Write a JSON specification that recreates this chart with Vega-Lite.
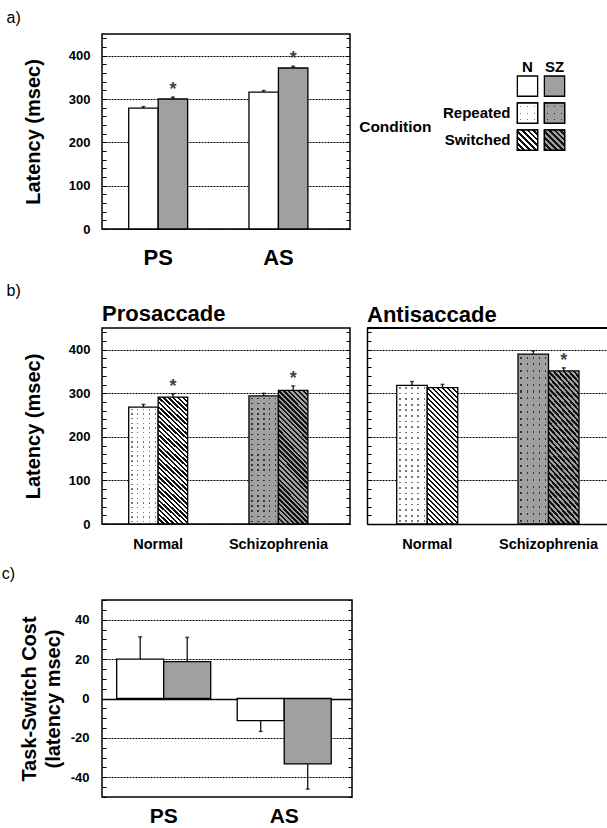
{
"$schema": "https://vega.github.io/schema/vega-lite/v6.json",
"background": "white",
"padding": {"left": 0, "top": 9, "right": 0, "bottom": 0},
"spacing": 13,
"resolve": {"scale": {"xOffset": "independent"}},
"datasets": {
"a": [
{"task":"PS","group":"N","latency":279,"hi":282.5,"sig":false},
{"task":"PS","group":"SZ","latency":300,"hi":304.5,"sig":true},
{"task":"AS","group":"N","latency":316,"hi":319.5,"sig":false},
{"task":"AS","group":"SZ","latency":371.5,"hi":375.5,"sig":true}
],
"b": [
{"task":"Prosaccade","group":"Normal","condition":"Repeated","latency":268.5,"hi":274.5,"sig":false},
{"task":"Prosaccade","group":"Normal","condition":"Switched","latency":291.5,"hi":299,"sig":true},
{"task":"Prosaccade","group":"Schizophrenia","condition":"Repeated","latency":294,"hi":300,"sig":false},
{"task":"Prosaccade","group":"Schizophrenia","condition":"Switched","latency":307,"hi":317,"sig":true},
{"task":"Antisaccade","group":"Normal","condition":"Repeated","latency":318.5,"hi":327,"sig":false},
{"task":"Antisaccade","group":"Normal","condition":"Switched","latency":313,"hi":320.5,"sig":false},
{"task":"Antisaccade","group":"Schizophrenia","condition":"Repeated","latency":390,"hi":397.5,"sig":false},
{"task":"Antisaccade","group":"Schizophrenia","condition":"Switched","latency":351.5,"hi":358.5,"sig":true}
],
"c": [
{"task":"PS","group":"N","cost":20,"err":31.3},
{"task":"PS","group":"SZ","cost":18.7,"err":31},
{"task":"AS","group":"N","cost":-11.2,"err":-16.7},
{"task":"AS","group":"SZ","cost":-33.2,"err":-46}
],
"leg": [
{"group":"N","row":"Plain"},{"group":"SZ","row":"Plain"},
{"group":"N","row":"Repeated"},{"group":"SZ","row":"Repeated"},
{"group":"N","row":"Switched"},{"group":"SZ","row":"Switched"}
]
},
"vconcat": [
{
"title": {"text":"a)","anchor":"start","fontSize":16,"fontWeight":"normal","offset":6,"dx":-16},
"spacing": 6,
"resolve": {"scale": {"xOffset": "independent"}},
"hconcat": [
{
"width": 248, "height": 195,
"data": {"name":"a"},
"encoding": {
"x": {"field":"task","type":"nominal","scale":{"type":"band","domain":["PS","AS"],"paddingInner":0.51,"paddingOuter":0.286,"align":0.388},"axis":{"title":null,"labelAngle":0,"labelFontSize":22,"labelPadding":18}},
"xOffset": {"field":"group","type":"nominal","scale":{"type":"band","domain":["N","SZ"],"paddingInner":0,"paddingOuter":0}}
},
"layer": [
{"mark":{"type":"bar","stroke":"#000","strokeWidth":1.3},
"encoding":{
"y":{"field":"latency","type":"quantitative","scale":{"domain":[0,450],"nice":false},"axis":{"orient":"left","title":"Latency (msec)","titleFontSize":20,"titlePadding":25,"values":[0,20,40,60,80,100,120,140,160,180,200,220,240,260,280,300,320,340,360,380,400,420,440],"labelExpr":"datum.value % 100 == 0 ? datum.label : ''","labelFontSize":13,"labelPadding":16,"grid":true,"gridColor":"#000","gridDash":[2,1],"gridWidth":1,"gridOpacity":{"condition":{"test":"datum.value % 100 == 0","value":1},"value":0},"ticks":true,"tickSize":-4,"tickColor":"#000","tickWidth":1}},
"fill":{"field":"group","type":"nominal","scale":{"domain":["N","SZ"],"range":["#ffffff","#a0a0a0"]},"legend":null}}},
{"mark":{"type":"rule","color":"#000","strokeWidth":1.2},
"encoding":{"y":{"field":"latency","type":"quantitative","scale":{"domain":[0,450],"nice":false},"axis":{"orient":"right","title":null,"values":[0,20,40,60,80,100,120,140,160,180,200,220,240,260,280,300,320,340,360,380,400,420,440],"labels":false,"grid":false,"domain":false,"ticks":true,"tickSize":-4,"tickColor":"#000","tickWidth":1}},"y2":{"field":"hi"}}},
{"mark":{"type":"tick","color":"#000","thickness":1.5,"size":4},
"encoding":{"y":{"field":"hi","type":"quantitative","scale":{"domain":[0,450],"nice":false},"axis":null}}},
{"transform":[{"filter":"datum.sig"}],
"mark":{"type":"text","text":"*","fontSize":18,"fontWeight":"bold","color":"#444","dy":-2,"baseline":"alphabetic"},
"encoding":{"y":{"field":"hi","type":"quantitative","scale":{"domain":[0,450],"nice":false},"axis":null}}}
],
"resolve": {"axis":{"y":"independent"}}
},
{
"width": 60, "height": 195,
"view": {"stroke": null},
"data": {"name":"leg"},
"encoding": {
"x": {"field":"group","type":"nominal","scale":{"type":"band","domain":["N","SZ"],"paddingInner":0.25,"paddingOuter":0.236},"axis":null},
"y": {"field":"row","type":"nominal","scale":{"type":"band","domain":["t0","Plain","Repeated","Switched","t4","t5"],"paddingInner":0.25,"paddingOuter":0.736,"align":0.377},"axis":{"orient":"left","title":"Condition","titleAngle":0,"titleAlign":"right","titleBaseline":"middle","titleX":-80,"titleY":92,"titleFontSize":15.5,"labelFontSize":15,"labelPadding":1,"labelExpr":"datum.value == 'Repeated' || datum.value == 'Switched' ? datum.value : ''","ticks":false,"domain":false,"grid":false}}
},
"layer": [
{"mark":{"type":"rect","stroke":"#000","strokeWidth":1.3},"encoding":{"fill":{"field":"group","type":"nominal","scale":{"domain":["N","SZ"],"range":["#ffffff","#a0a0a0"]},"legend":null}}},
{"transform":[{"filter":"datum.row=='Repeated' && datum.group=='N'"}],"mark":{"type":"rect","style":"lrowN"}},
{"transform":[{"filter":"datum.row=='Repeated' && datum.group=='N'"}],"mark":{"type":"rect","style":"lmaskN","stroke":"#000","strokeWidth":1.3}},
{"transform":[{"filter":"datum.row=='Repeated' && datum.group=='SZ'"}],"mark":{"type":"rect","style":"lrowS"}},
{"transform":[{"filter":"datum.row=='Repeated' && datum.group=='SZ'"}],"mark":{"type":"rect","style":"lmaskS","stroke":"#000","strokeWidth":1.3}},
{"transform":[{"filter":"datum.row=='Switched' && datum.group=='N'"}],"mark":{"type":"rect","style":"lswN","stroke":"#000","strokeWidth":1.3}},
{"transform":[{"filter":"datum.row=='Switched' && datum.group=='SZ'"}],"mark":{"type":"rect","style":"lswS","stroke":"#000","strokeWidth":1.3}},
{"transform":[{"filter":"datum.row=='Plain'"}],"mark":{"type":"text","fontSize":15,"fontWeight":"bold","dy":-19,"color":"#000"},"encoding":{"text":{"field":"group"}}}
]
}
]
},
{
"title": {"text":"b)","anchor":"start","fontSize":16,"fontWeight":"normal","offset":4,"dx":-16},
"spacing": 14,
"resolve": {"scale": {"xOffset": "independent"}},
"hconcat": [
{
"width": 248, "height": 196,
"title": {"text":"Prosaccade","anchor":"start","frame":"group","fontSize":22,"fontWeight":"bold","offset":0},
"data": {"name":"b"},
"transform": [{"filter":"datum.task=='Prosaccade'"}],
"encoding": {
"x": {"field":"group","type":"nominal","scale":{"type":"band","domain":["Normal","Schizophrenia"],"paddingInner":0.51,"paddingOuter":0.286,"align":0.388},"axis":{"title":null,"labelAngle":0,"labelFontSize":14.5,"labelPadding":13}},
"xOffset": {"field":"condition","type":"nominal","scale":{"type":"band","domain":["Repeated","Switched"],"paddingInner":0,"paddingOuter":0}},
"y": {"field":"latency","type":"quantitative","scale":{"domain":[0,450],"nice":false},"axis":null}
},
"layer": [
{"transform":[{"filter":"datum.condition=='Repeated' && datum.group=='Normal'"}],"mark":{"type":"bar","style":"rowN"},
"encoding":{"y":{"field":"latency","type":"quantitative","scale":{"domain":[0,450],"nice":false},"axis":{"orient":"left","title":"Latency (msec)","titleFontSize":20,"titlePadding":25,"values":[0,20,40,60,80,100,120,140,160,180,200,220,240,260,280,300,320,340,360,380,400,420,440],"labelExpr":"datum.value % 100 == 0 ? datum.label : ''","labelFontSize":13,"labelPadding":16,"grid":true,"gridColor":"#000","gridDash":[2,1],"gridWidth":1,"gridOpacity":{"condition":{"test":"datum.value % 100 == 0","value":1},"value":0},"ticks":true,"tickSize":-4,"tickColor":"#000","tickWidth":1}}}},
{"transform":[{"filter":"datum.condition=='Repeated' && datum.group=='Normal'"}],"mark":{"type":"bar","style":"maskN","stroke":"#000","strokeWidth":1.3}},
{"transform":[{"filter":"datum.condition=='Repeated' && datum.group=='Schizophrenia'"}],"mark":{"type":"bar","style":"rowS"}},
{"transform":[{"filter":"datum.condition=='Repeated' && datum.group=='Schizophrenia'"}],"mark":{"type":"bar","style":"maskS","stroke":"#000","strokeWidth":1.3}},
{"transform":[{"filter":"datum.condition=='Switched' && datum.group=='Normal'"}],"mark":{"type":"bar","style":"swN","stroke":"#000","strokeWidth":1.3}},
{"transform":[{"filter":"datum.condition=='Switched' && datum.group=='Schizophrenia'"}],"mark":{"type":"bar","style":"swS","stroke":"#000","strokeWidth":1.3}},
{"mark":{"type":"rule","color":"#000","strokeWidth":1.2},
"encoding":{"y":{"field":"latency","type":"quantitative","scale":{"domain":[0,450],"nice":false},"axis":{"orient":"right","title":null,"values":[0,20,40,60,80,100,120,140,160,180,200,220,240,260,280,300,320,340,360,380,400,420,440],"labels":false,"grid":false,"domain":false,"ticks":true,"tickSize":-4,"tickColor":"#000","tickWidth":1}},"y2":{"field":"hi"}}},
{"mark":{"type":"tick","color":"#000","thickness":1.5,"size":4},
"encoding":{"y":{"field":"hi","type":"quantitative","scale":{"domain":[0,450],"nice":false},"axis":null}}},
{"transform":[{"filter":"datum.sig"}],
"mark":{"type":"text","text":"*","fontSize":18,"fontWeight":"bold","color":"#444","dy":-2,"baseline":"alphabetic"},
"encoding":{"y":{"field":"hi","type":"quantitative","scale":{"domain":[0,450],"nice":false},"axis":null}}}
],
"resolve": {"axis":{"y":"independent"}}
},
{
"width": 240, "height": 196,
"view": {"stroke": null},
"title": {"text":"Antisaccade","anchor":"start","frame":"group","fontSize":22,"fontWeight":"bold","offset":0},
"data": {"name":"b"},
"transform": [{"filter":"datum.task=='Antisaccade'"}],
"layer": [
{
"encoding": {
"x": {"field":"group","type":"nominal","scale":{"type":"band","domain":["Normal","Schizophrenia"],"paddingInner":0.497,"paddingOuter":0.238,"align":0.515},"axis":{"title":null,"labelAngle":0,"labelFontSize":14.5,"labelPadding":13,"domain":true,"domainColor":"#000","domainWidth":1.5}},
"xOffset": {"field":"condition","type":"nominal","scale":{"type":"band","domain":["Repeated","Switched"],"paddingInner":0,"paddingOuter":0}},
"y": {"field":"latency","type":"quantitative","scale":{"domain":[0,450],"nice":false},"axis":null}
},
"layer": [
{"transform":[{"filter":"datum.condition=='Repeated' && datum.group=='Normal'"}],"mark":{"type":"bar","style":"rowN"},
"encoding":{"y":{"field":"latency","type":"quantitative","scale":{"domain":[0,450],"nice":false},"axis":{"orient":"left","title":null,"values":[0,20,40,60,80,100,120,140,160,180,200,220,240,260,280,300,320,340,360,380,400,420,440],"labels":false,"domain":true,"domainColor":"#000","domainWidth":1.5,"grid":true,"gridColor":"#000","gridDash":[2,1],"gridWidth":1,"gridOpacity":{"condition":{"test":"datum.value % 100 == 0","value":1},"value":0},"ticks":true,"tickSize":-4,"tickColor":"#000","tickWidth":1}}}},
{"transform":[{"filter":"datum.condition=='Repeated' && datum.group=='Normal'"}],"mark":{"type":"bar","style":"maskN","stroke":"#000","strokeWidth":1.3}},
{"transform":[{"filter":"datum.condition=='Repeated' && datum.group=='Schizophrenia'"}],"mark":{"type":"bar","style":"rowS"}},
{"transform":[{"filter":"datum.condition=='Repeated' && datum.group=='Schizophrenia'"}],"mark":{"type":"bar","style":"maskS","stroke":"#000","strokeWidth":1.3}},
{"transform":[{"filter":"datum.condition=='Switched' && datum.group=='Normal'"}],"mark":{"type":"bar","style":"swN","stroke":"#000","strokeWidth":1.3}},
{"transform":[{"filter":"datum.condition=='Switched' && datum.group=='Schizophrenia'"}],"mark":{"type":"bar","style":"swS","stroke":"#000","strokeWidth":1.3}},
{"mark":{"type":"rule","color":"#000","strokeWidth":1.2},
"encoding":{"y":{"field":"latency","type":"quantitative","scale":{"domain":[0,450],"nice":false},"axis":null},"y2":{"field":"hi"}}},
{"mark":{"type":"tick","color":"#000","thickness":1.5,"size":4},
"encoding":{"y":{"field":"hi","type":"quantitative","scale":{"domain":[0,450],"nice":false},"axis":null}}},
{"transform":[{"filter":"datum.sig"}],
"mark":{"type":"text","text":"*","fontSize":18,"fontWeight":"bold","color":"#444","dy":-2,"baseline":"alphabetic"},
"encoding":{"y":{"field":"hi","type":"quantitative","scale":{"domain":[0,450],"nice":false},"axis":null}}}
],
"resolve": {"axis":{"y":"independent"}}
},
{"mark":{"type":"rule","color":"#000","strokeWidth":1.5},
"encoding":{"y":{"datum":450,"type":"quantitative","scale":{"domain":[0,450],"nice":false},"axis":null}}}
],
"resolve": {"axis":{"y":"independent"}}
}
]
},
{
"width": 250, "height": 197,
"title": {"text":"c)","anchor":"start","fontSize":16,"fontWeight":"normal","offset":12,"dx":-17.5},
"data": {"name":"c"},
"encoding": {
"x": {"field":"task","type":"nominal","scale":{"type":"band","domain":["PS","AS"],"paddingInner":0.22,"paddingOuter":0.147,"align":0.414},"axis":{"title":null,"labelAngle":0,"labelFontSize":21,"labelPadding":8}},
"xOffset": {"field":"group","type":"nominal","scale":{"type":"band","domain":["N","SZ"],"paddingInner":0,"paddingOuter":0}}
},
"layer": [
{"mark":{"type":"bar","stroke":"#000","strokeWidth":1.3},
"encoding":{
"y":{"field":"cost","type":"quantitative","scale":{"domain":[-50,50],"nice":false},"axis":{"orient":"left","title":["Task-Switch Cost","(latency msec)"],"titleFontSize":20,"titleLineHeight":24,"titlePadding":7,"values":[-50,-45,-40,-35,-30,-25,-20,-15,-10,-5,0,5,10,15,20,25,30,35,40,45,50],"labelExpr":"datum.value % 20 == 0 ? '' + datum.value : ''","labelFontSize":13,"labelPadding":17,"grid":true,"gridColor":"#000","gridDash":{"condition":{"test":"datum.value == 0","value":[]},"value":[2,1]},"gridWidth":{"condition":{"test":"datum.value == 0","value":1.5},"value":1},"gridOpacity":{"condition":{"test":"datum.value % 20 == 0","value":1},"value":0},"ticks":true,"tickSize":-4,"tickColor":"#000","tickWidth":1}},
"fill":{"field":"group","type":"nominal","scale":{"domain":["N","SZ"],"range":["#ffffff","#a0a0a0"]},"legend":null}}},
{"mark":{"type":"rule","color":"#000","strokeWidth":1.2},
"encoding":{"y":{"field":"cost","type":"quantitative","scale":{"domain":[-50,50],"nice":false},"axis":{"orient":"right","title":null,"values":[-50,-45,-40,-35,-30,-25,-20,-15,-10,-5,0,5,10,15,20,25,30,35,40,45,50],"labels":false,"grid":false,"domain":false,"ticks":true,"tickSize":-4,"tickColor":"#000","tickWidth":1}},"y2":{"field":"err"}}},
{"mark":{"type":"tick","color":"#000","thickness":1.5,"size":4},
"encoding":{"y":{"field":"err","type":"quantitative","scale":{"domain":[-50,50],"nice":false},"axis":null}}}
],
"resolve": {"axis":{"y":"independent"}}
}
],
"config": {
"font": "Liberation Sans",
"view": {"stroke":"#000","strokeWidth":1.5},
"axis": {"labelFont":"Liberation Sans","labelFontWeight":"bold","labelColor":"#000","titleFont":"Liberation Sans","titleFontWeight":"bold","titleColor":"#000","domain":false,"ticks":false,"grid":false,"labelOverlap":false},
"title": {"font":"Liberation Sans","color":"#000","fontWeight":"bold"},
"text": {"font":"Liberation Sans"},
"style": {
"swN": {"color": {"gradient":"linear","x1":0,"y1":1,"x2":0.2588,"y2":-0.1647,"stops":[
{"offset":0,"color":"#111"},
{"offset":0.015,"color":"#111"},{"offset":0.015,"color":"#fff"},
{"offset":0.03,"color":"#fff"},{"offset":0.03,"color":"#111"},
{"offset":0.045,"color":"#111"},{"offset":0.045,"color":"#fff"},
{"offset":0.06,"color":"#fff"},{"offset":0.06,"color":"#111"},
{"offset":0.075,"color":"#111"},{"offset":0.075,"color":"#fff"},
{"offset":0.09,"color":"#fff"},{"offset":0.09,"color":"#111"},
{"offset":0.105,"color":"#111"},{"offset":0.105,"color":"#fff"},
{"offset":0.12,"color":"#fff"},{"offset":0.12,"color":"#111"},
{"offset":0.135,"color":"#111"},{"offset":0.135,"color":"#fff"},
{"offset":0.15,"color":"#fff"},{"offset":0.15,"color":"#111"},
{"offset":0.165,"color":"#111"},{"offset":0.165,"color":"#fff"},
{"offset":0.18,"color":"#fff"},{"offset":0.18,"color":"#111"},
{"offset":0.195,"color":"#111"},{"offset":0.195,"color":"#fff"},
{"offset":0.21,"color":"#fff"},{"offset":0.21,"color":"#111"},
{"offset":0.225,"color":"#111"},{"offset":0.225,"color":"#fff"},
{"offset":0.24,"color":"#fff"},{"offset":0.24,"color":"#111"},
{"offset":0.255,"color":"#111"},{"offset":0.255,"color":"#fff"},
{"offset":0.27,"color":"#fff"},{"offset":0.27,"color":"#111"},
{"offset":0.285,"color":"#111"},{"offset":0.285,"color":"#fff"},
{"offset":0.3,"color":"#fff"},{"offset":0.3,"color":"#111"},
{"offset":0.315,"color":"#111"},{"offset":0.315,"color":"#fff"},
{"offset":0.33,"color":"#fff"},{"offset":0.33,"color":"#111"},
{"offset":0.345,"color":"#111"},{"offset":0.345,"color":"#fff"},
{"offset":0.36,"color":"#fff"},{"offset":0.36,"color":"#111"},
{"offset":0.375,"color":"#111"},{"offset":0.375,"color":"#fff"},
{"offset":0.39,"color":"#fff"},{"offset":0.39,"color":"#111"},
{"offset":0.405,"color":"#111"},{"offset":0.405,"color":"#fff"},
{"offset":0.42,"color":"#fff"},{"offset":0.42,"color":"#111"},
{"offset":0.435,"color":"#111"},{"offset":0.435,"color":"#fff"},
{"offset":0.45,"color":"#fff"},{"offset":0.45,"color":"#111"},
{"offset":0.465,"color":"#111"},{"offset":0.465,"color":"#fff"},
{"offset":0.48,"color":"#fff"},{"offset":0.48,"color":"#111"},
{"offset":0.495,"color":"#111"},{"offset":0.495,"color":"#fff"},
{"offset":0.51,"color":"#fff"},{"offset":0.51,"color":"#111"},
{"offset":0.525,"color":"#111"},{"offset":0.525,"color":"#fff"},
{"offset":0.54,"color":"#fff"},{"offset":0.54,"color":"#111"},
{"offset":0.555,"color":"#111"},{"offset":0.555,"color":"#fff"},
{"offset":0.57,"color":"#fff"},{"offset":0.57,"color":"#111"},
{"offset":0.585,"color":"#111"},{"offset":0.585,"color":"#fff"},
{"offset":0.6,"color":"#fff"},{"offset":0.6,"color":"#111"},
{"offset":0.615,"color":"#111"},{"offset":0.615,"color":"#fff"},
{"offset":0.63,"color":"#fff"},{"offset":0.63,"color":"#111"},
{"offset":0.645,"color":"#111"},{"offset":0.645,"color":"#fff"},
{"offset":0.66,"color":"#fff"},{"offset":0.66,"color":"#111"},
{"offset":0.675,"color":"#111"},{"offset":0.675,"color":"#fff"},
{"offset":0.69,"color":"#fff"},{"offset":0.69,"color":"#111"},
{"offset":0.705,"color":"#111"},{"offset":0.705,"color":"#fff"},
{"offset":0.72,"color":"#fff"},{"offset":0.72,"color":"#111"},
{"offset":0.735,"color":"#111"},{"offset":0.735,"color":"#fff"},
{"offset":0.75,"color":"#fff"},{"offset":0.75,"color":"#111"},
{"offset":0.765,"color":"#111"},{"offset":0.765,"color":"#fff"},
{"offset":0.78,"color":"#fff"},{"offset":0.78,"color":"#111"},
{"offset":0.795,"color":"#111"},{"offset":0.795,"color":"#fff"},
{"offset":0.81,"color":"#fff"},{"offset":0.81,"color":"#111"},
{"offset":0.825,"color":"#111"},{"offset":0.825,"color":"#fff"},
{"offset":0.84,"color":"#fff"},{"offset":0.84,"color":"#111"},
{"offset":0.855,"color":"#111"},{"offset":0.855,"color":"#fff"},
{"offset":0.87,"color":"#fff"},{"offset":0.87,"color":"#111"},
{"offset":0.885,"color":"#111"},{"offset":0.885,"color":"#fff"},
{"offset":0.9,"color":"#fff"},{"offset":0.9,"color":"#111"},
{"offset":0.915,"color":"#111"},{"offset":0.915,"color":"#fff"},
{"offset":0.93,"color":"#fff"},{"offset":0.93,"color":"#111"},
{"offset":0.945,"color":"#111"},{"offset":0.945,"color":"#fff"},
{"offset":0.96,"color":"#fff"},{"offset":0.96,"color":"#111"},
{"offset":0.975,"color":"#111"},{"offset":0.975,"color":"#fff"},
{"offset":0.99,"color":"#fff"},{"offset":0.99,"color":"#111"},
{"offset":1,"color":"#111"}]}},
"swS": {"color": {"gradient":"linear","x1":0,"y1":1,"x2":0.2588,"y2":-0.1647,"stops":[
{"offset":0,"color":"#111"},
{"offset":0.015,"color":"#111"},{"offset":0.015,"color":"#a0a0a0"},
{"offset":0.03,"color":"#a0a0a0"},{"offset":0.03,"color":"#111"},
{"offset":0.045,"color":"#111"},{"offset":0.045,"color":"#a0a0a0"},
{"offset":0.06,"color":"#a0a0a0"},{"offset":0.06,"color":"#111"},
{"offset":0.075,"color":"#111"},{"offset":0.075,"color":"#a0a0a0"},
{"offset":0.09,"color":"#a0a0a0"},{"offset":0.09,"color":"#111"},
{"offset":0.105,"color":"#111"},{"offset":0.105,"color":"#a0a0a0"},
{"offset":0.12,"color":"#a0a0a0"},{"offset":0.12,"color":"#111"},
{"offset":0.135,"color":"#111"},{"offset":0.135,"color":"#a0a0a0"},
{"offset":0.15,"color":"#a0a0a0"},{"offset":0.15,"color":"#111"},
{"offset":0.165,"color":"#111"},{"offset":0.165,"color":"#a0a0a0"},
{"offset":0.18,"color":"#a0a0a0"},{"offset":0.18,"color":"#111"},
{"offset":0.195,"color":"#111"},{"offset":0.195,"color":"#a0a0a0"},
{"offset":0.21,"color":"#a0a0a0"},{"offset":0.21,"color":"#111"},
{"offset":0.225,"color":"#111"},{"offset":0.225,"color":"#a0a0a0"},
{"offset":0.24,"color":"#a0a0a0"},{"offset":0.24,"color":"#111"},
{"offset":0.255,"color":"#111"},{"offset":0.255,"color":"#a0a0a0"},
{"offset":0.27,"color":"#a0a0a0"},{"offset":0.27,"color":"#111"},
{"offset":0.285,"color":"#111"},{"offset":0.285,"color":"#a0a0a0"},
{"offset":0.3,"color":"#a0a0a0"},{"offset":0.3,"color":"#111"},
{"offset":0.315,"color":"#111"},{"offset":0.315,"color":"#a0a0a0"},
{"offset":0.33,"color":"#a0a0a0"},{"offset":0.33,"color":"#111"},
{"offset":0.345,"color":"#111"},{"offset":0.345,"color":"#a0a0a0"},
{"offset":0.36,"color":"#a0a0a0"},{"offset":0.36,"color":"#111"},
{"offset":0.375,"color":"#111"},{"offset":0.375,"color":"#a0a0a0"},
{"offset":0.39,"color":"#a0a0a0"},{"offset":0.39,"color":"#111"},
{"offset":0.405,"color":"#111"},{"offset":0.405,"color":"#a0a0a0"},
{"offset":0.42,"color":"#a0a0a0"},{"offset":0.42,"color":"#111"},
{"offset":0.435,"color":"#111"},{"offset":0.435,"color":"#a0a0a0"},
{"offset":0.45,"color":"#a0a0a0"},{"offset":0.45,"color":"#111"},
{"offset":0.465,"color":"#111"},{"offset":0.465,"color":"#a0a0a0"},
{"offset":0.48,"color":"#a0a0a0"},{"offset":0.48,"color":"#111"},
{"offset":0.495,"color":"#111"},{"offset":0.495,"color":"#a0a0a0"},
{"offset":0.51,"color":"#a0a0a0"},{"offset":0.51,"color":"#111"},
{"offset":0.525,"color":"#111"},{"offset":0.525,"color":"#a0a0a0"},
{"offset":0.54,"color":"#a0a0a0"},{"offset":0.54,"color":"#111"},
{"offset":0.555,"color":"#111"},{"offset":0.555,"color":"#a0a0a0"},
{"offset":0.57,"color":"#a0a0a0"},{"offset":0.57,"color":"#111"},
{"offset":0.585,"color":"#111"},{"offset":0.585,"color":"#a0a0a0"},
{"offset":0.6,"color":"#a0a0a0"},{"offset":0.6,"color":"#111"},
{"offset":0.615,"color":"#111"},{"offset":0.615,"color":"#a0a0a0"},
{"offset":0.63,"color":"#a0a0a0"},{"offset":0.63,"color":"#111"},
{"offset":0.645,"color":"#111"},{"offset":0.645,"color":"#a0a0a0"},
{"offset":0.66,"color":"#a0a0a0"},{"offset":0.66,"color":"#111"},
{"offset":0.675,"color":"#111"},{"offset":0.675,"color":"#a0a0a0"},
{"offset":0.69,"color":"#a0a0a0"},{"offset":0.69,"color":"#111"},
{"offset":0.705,"color":"#111"},{"offset":0.705,"color":"#a0a0a0"},
{"offset":0.72,"color":"#a0a0a0"},{"offset":0.72,"color":"#111"},
{"offset":0.735,"color":"#111"},{"offset":0.735,"color":"#a0a0a0"},
{"offset":0.75,"color":"#a0a0a0"},{"offset":0.75,"color":"#111"},
{"offset":0.765,"color":"#111"},{"offset":0.765,"color":"#a0a0a0"},
{"offset":0.78,"color":"#a0a0a0"},{"offset":0.78,"color":"#111"},
{"offset":0.795,"color":"#111"},{"offset":0.795,"color":"#a0a0a0"},
{"offset":0.81,"color":"#a0a0a0"},{"offset":0.81,"color":"#111"},
{"offset":0.825,"color":"#111"},{"offset":0.825,"color":"#a0a0a0"},
{"offset":0.84,"color":"#a0a0a0"},{"offset":0.84,"color":"#111"},
{"offset":0.855,"color":"#111"},{"offset":0.855,"color":"#a0a0a0"},
{"offset":0.87,"color":"#a0a0a0"},{"offset":0.87,"color":"#111"},
{"offset":0.885,"color":"#111"},{"offset":0.885,"color":"#a0a0a0"},
{"offset":0.9,"color":"#a0a0a0"},{"offset":0.9,"color":"#111"},
{"offset":0.915,"color":"#111"},{"offset":0.915,"color":"#a0a0a0"},
{"offset":0.93,"color":"#a0a0a0"},{"offset":0.93,"color":"#111"},
{"offset":0.945,"color":"#111"},{"offset":0.945,"color":"#a0a0a0"},
{"offset":0.96,"color":"#a0a0a0"},{"offset":0.96,"color":"#111"},
{"offset":0.975,"color":"#111"},{"offset":0.975,"color":"#a0a0a0"},
{"offset":0.99,"color":"#a0a0a0"},{"offset":0.99,"color":"#111"},
{"offset":1,"color":"#111"}]}},
"rowN": {"color": {"gradient":"linear","x1":0,"y1":0,"x2":0,"y2":1,"stops":[
{"offset":0,"color":"#fff"},
{"offset":0.014,"color":"#fff"},{"offset":0.014,"color":"#777"},{"offset":0.026,"color":"#777"},{"offset":0.026,"color":"#fff"},
{"offset":0.054,"color":"#fff"},{"offset":0.054,"color":"#777"},{"offset":0.066,"color":"#777"},{"offset":0.066,"color":"#fff"},
{"offset":0.094,"color":"#fff"},{"offset":0.094,"color":"#777"},{"offset":0.106,"color":"#777"},{"offset":0.106,"color":"#fff"},
{"offset":0.134,"color":"#fff"},{"offset":0.134,"color":"#777"},{"offset":0.146,"color":"#777"},{"offset":0.146,"color":"#fff"},
{"offset":0.174,"color":"#fff"},{"offset":0.174,"color":"#777"},{"offset":0.186,"color":"#777"},{"offset":0.186,"color":"#fff"},
{"offset":0.214,"color":"#fff"},{"offset":0.214,"color":"#777"},{"offset":0.226,"color":"#777"},{"offset":0.226,"color":"#fff"},
{"offset":0.254,"color":"#fff"},{"offset":0.254,"color":"#777"},{"offset":0.266,"color":"#777"},{"offset":0.266,"color":"#fff"},
{"offset":0.294,"color":"#fff"},{"offset":0.294,"color":"#777"},{"offset":0.306,"color":"#777"},{"offset":0.306,"color":"#fff"},
{"offset":0.334,"color":"#fff"},{"offset":0.334,"color":"#777"},{"offset":0.346,"color":"#777"},{"offset":0.346,"color":"#fff"},
{"offset":0.374,"color":"#fff"},{"offset":0.374,"color":"#777"},{"offset":0.386,"color":"#777"},{"offset":0.386,"color":"#fff"},
{"offset":0.414,"color":"#fff"},{"offset":0.414,"color":"#777"},{"offset":0.426,"color":"#777"},{"offset":0.426,"color":"#fff"},
{"offset":0.454,"color":"#fff"},{"offset":0.454,"color":"#777"},{"offset":0.466,"color":"#777"},{"offset":0.466,"color":"#fff"},
{"offset":0.494,"color":"#fff"},{"offset":0.494,"color":"#777"},{"offset":0.506,"color":"#777"},{"offset":0.506,"color":"#fff"},
{"offset":0.534,"color":"#fff"},{"offset":0.534,"color":"#777"},{"offset":0.546,"color":"#777"},{"offset":0.546,"color":"#fff"},
{"offset":0.574,"color":"#fff"},{"offset":0.574,"color":"#777"},{"offset":0.586,"color":"#777"},{"offset":0.586,"color":"#fff"},
{"offset":0.614,"color":"#fff"},{"offset":0.614,"color":"#777"},{"offset":0.626,"color":"#777"},{"offset":0.626,"color":"#fff"},
{"offset":0.654,"color":"#fff"},{"offset":0.654,"color":"#777"},{"offset":0.666,"color":"#777"},{"offset":0.666,"color":"#fff"},
{"offset":0.694,"color":"#fff"},{"offset":0.694,"color":"#777"},{"offset":0.706,"color":"#777"},{"offset":0.706,"color":"#fff"},
{"offset":0.734,"color":"#fff"},{"offset":0.734,"color":"#777"},{"offset":0.746,"color":"#777"},{"offset":0.746,"color":"#fff"},
{"offset":0.774,"color":"#fff"},{"offset":0.774,"color":"#777"},{"offset":0.786,"color":"#777"},{"offset":0.786,"color":"#fff"},
{"offset":0.814,"color":"#fff"},{"offset":0.814,"color":"#777"},{"offset":0.826,"color":"#777"},{"offset":0.826,"color":"#fff"},
{"offset":0.854,"color":"#fff"},{"offset":0.854,"color":"#777"},{"offset":0.866,"color":"#777"},{"offset":0.866,"color":"#fff"},
{"offset":0.894,"color":"#fff"},{"offset":0.894,"color":"#777"},{"offset":0.906,"color":"#777"},{"offset":0.906,"color":"#fff"},
{"offset":0.934,"color":"#fff"},{"offset":0.934,"color":"#777"},{"offset":0.946,"color":"#777"},{"offset":0.946,"color":"#fff"},
{"offset":0.974,"color":"#fff"},{"offset":0.974,"color":"#777"},{"offset":0.986,"color":"#777"},{"offset":0.986,"color":"#fff"},
{"offset":1,"color":"#fff"}]}},
"rowS": {"color": {"gradient":"linear","x1":0,"y1":0,"x2":0,"y2":1,"stops":[
{"offset":0,"color":"#a0a0a0"},
{"offset":0.014,"color":"#a0a0a0"},{"offset":0.014,"color":"#333"},{"offset":0.026,"color":"#333"},{"offset":0.026,"color":"#a0a0a0"},
{"offset":0.054,"color":"#a0a0a0"},{"offset":0.054,"color":"#333"},{"offset":0.066,"color":"#333"},{"offset":0.066,"color":"#a0a0a0"},
{"offset":0.094,"color":"#a0a0a0"},{"offset":0.094,"color":"#333"},{"offset":0.106,"color":"#333"},{"offset":0.106,"color":"#a0a0a0"},
{"offset":0.134,"color":"#a0a0a0"},{"offset":0.134,"color":"#333"},{"offset":0.146,"color":"#333"},{"offset":0.146,"color":"#a0a0a0"},
{"offset":0.174,"color":"#a0a0a0"},{"offset":0.174,"color":"#333"},{"offset":0.186,"color":"#333"},{"offset":0.186,"color":"#a0a0a0"},
{"offset":0.214,"color":"#a0a0a0"},{"offset":0.214,"color":"#333"},{"offset":0.226,"color":"#333"},{"offset":0.226,"color":"#a0a0a0"},
{"offset":0.254,"color":"#a0a0a0"},{"offset":0.254,"color":"#333"},{"offset":0.266,"color":"#333"},{"offset":0.266,"color":"#a0a0a0"},
{"offset":0.294,"color":"#a0a0a0"},{"offset":0.294,"color":"#333"},{"offset":0.306,"color":"#333"},{"offset":0.306,"color":"#a0a0a0"},
{"offset":0.334,"color":"#a0a0a0"},{"offset":0.334,"color":"#333"},{"offset":0.346,"color":"#333"},{"offset":0.346,"color":"#a0a0a0"},
{"offset":0.374,"color":"#a0a0a0"},{"offset":0.374,"color":"#333"},{"offset":0.386,"color":"#333"},{"offset":0.386,"color":"#a0a0a0"},
{"offset":0.414,"color":"#a0a0a0"},{"offset":0.414,"color":"#333"},{"offset":0.426,"color":"#333"},{"offset":0.426,"color":"#a0a0a0"},
{"offset":0.454,"color":"#a0a0a0"},{"offset":0.454,"color":"#333"},{"offset":0.466,"color":"#333"},{"offset":0.466,"color":"#a0a0a0"},
{"offset":0.494,"color":"#a0a0a0"},{"offset":0.494,"color":"#333"},{"offset":0.506,"color":"#333"},{"offset":0.506,"color":"#a0a0a0"},
{"offset":0.534,"color":"#a0a0a0"},{"offset":0.534,"color":"#333"},{"offset":0.546,"color":"#333"},{"offset":0.546,"color":"#a0a0a0"},
{"offset":0.574,"color":"#a0a0a0"},{"offset":0.574,"color":"#333"},{"offset":0.586,"color":"#333"},{"offset":0.586,"color":"#a0a0a0"},
{"offset":0.614,"color":"#a0a0a0"},{"offset":0.614,"color":"#333"},{"offset":0.626,"color":"#333"},{"offset":0.626,"color":"#a0a0a0"},
{"offset":0.654,"color":"#a0a0a0"},{"offset":0.654,"color":"#333"},{"offset":0.666,"color":"#333"},{"offset":0.666,"color":"#a0a0a0"},
{"offset":0.694,"color":"#a0a0a0"},{"offset":0.694,"color":"#333"},{"offset":0.706,"color":"#333"},{"offset":0.706,"color":"#a0a0a0"},
{"offset":0.734,"color":"#a0a0a0"},{"offset":0.734,"color":"#333"},{"offset":0.746,"color":"#333"},{"offset":0.746,"color":"#a0a0a0"},
{"offset":0.774,"color":"#a0a0a0"},{"offset":0.774,"color":"#333"},{"offset":0.786,"color":"#333"},{"offset":0.786,"color":"#a0a0a0"},
{"offset":0.814,"color":"#a0a0a0"},{"offset":0.814,"color":"#333"},{"offset":0.826,"color":"#333"},{"offset":0.826,"color":"#a0a0a0"},
{"offset":0.854,"color":"#a0a0a0"},{"offset":0.854,"color":"#333"},{"offset":0.866,"color":"#333"},{"offset":0.866,"color":"#a0a0a0"},
{"offset":0.894,"color":"#a0a0a0"},{"offset":0.894,"color":"#333"},{"offset":0.906,"color":"#333"},{"offset":0.906,"color":"#a0a0a0"},
{"offset":0.934,"color":"#a0a0a0"},{"offset":0.934,"color":"#333"},{"offset":0.946,"color":"#333"},{"offset":0.946,"color":"#a0a0a0"},
{"offset":0.974,"color":"#a0a0a0"},{"offset":0.974,"color":"#333"},{"offset":0.986,"color":"#333"},{"offset":0.986,"color":"#a0a0a0"},
{"offset":1,"color":"#a0a0a0"}]}},
"maskN": {"color": {"gradient":"linear","x1":0,"y1":0,"x2":1,"y2":0,"stops":[
{"offset":0,"color":"#fff"},
{"offset":0.08,"color":"#fff"},{"offset":0.08,"color":"rgba(255,255,255,0)"},{"offset":0.13,"color":"rgba(255,255,255,0)"},{"offset":0.13,"color":"#fff"},
{"offset":0.28,"color":"#fff"},{"offset":0.28,"color":"rgba(255,255,255,0)"},{"offset":0.33,"color":"rgba(255,255,255,0)"},{"offset":0.33,"color":"#fff"},
{"offset":0.48,"color":"#fff"},{"offset":0.48,"color":"rgba(255,255,255,0)"},{"offset":0.53,"color":"rgba(255,255,255,0)"},{"offset":0.53,"color":"#fff"},
{"offset":0.68,"color":"#fff"},{"offset":0.68,"color":"rgba(255,255,255,0)"},{"offset":0.73,"color":"rgba(255,255,255,0)"},{"offset":0.73,"color":"#fff"},
{"offset":0.88,"color":"#fff"},{"offset":0.88,"color":"rgba(255,255,255,0)"},{"offset":0.93,"color":"rgba(255,255,255,0)"},{"offset":0.93,"color":"#fff"},
{"offset":1,"color":"#fff"}]}},
"maskS": {"color": {"gradient":"linear","x1":0,"y1":0,"x2":1,"y2":0,"stops":[
{"offset":0,"color":"#a0a0a0"},
{"offset":0.08,"color":"#a0a0a0"},{"offset":0.08,"color":"rgba(160,160,160,0)"},{"offset":0.13,"color":"rgba(160,160,160,0)"},{"offset":0.13,"color":"#a0a0a0"},
{"offset":0.28,"color":"#a0a0a0"},{"offset":0.28,"color":"rgba(160,160,160,0)"},{"offset":0.33,"color":"rgba(160,160,160,0)"},{"offset":0.33,"color":"#a0a0a0"},
{"offset":0.48,"color":"#a0a0a0"},{"offset":0.48,"color":"rgba(160,160,160,0)"},{"offset":0.53,"color":"rgba(160,160,160,0)"},{"offset":0.53,"color":"#a0a0a0"},
{"offset":0.68,"color":"#a0a0a0"},{"offset":0.68,"color":"rgba(160,160,160,0)"},{"offset":0.73,"color":"rgba(160,160,160,0)"},{"offset":0.73,"color":"#a0a0a0"},
{"offset":0.88,"color":"#a0a0a0"},{"offset":0.88,"color":"rgba(160,160,160,0)"},{"offset":0.93,"color":"rgba(160,160,160,0)"},{"offset":0.93,"color":"#a0a0a0"},
{"offset":1,"color":"#a0a0a0"}]}},
"lswN": {"color": {"gradient":"linear","x1":0,"y1":1,"x2":1,"y2":0,"stops":[
{"offset":0,"color":"#111"},{"offset":0.071,"color":"#111"},{"offset":0.071,"color":"#fff"},{"offset":0.143,"color":"#fff"},{"offset":0.143,"color":"#111"},
{"offset":0.214,"color":"#111"},{"offset":0.214,"color":"#fff"},{"offset":0.286,"color":"#fff"},{"offset":0.286,"color":"#111"},
{"offset":0.357,"color":"#111"},{"offset":0.357,"color":"#fff"},{"offset":0.429,"color":"#fff"},{"offset":0.429,"color":"#111"},
{"offset":0.5,"color":"#111"},{"offset":0.5,"color":"#fff"},{"offset":0.571,"color":"#fff"},{"offset":0.571,"color":"#111"},
{"offset":0.643,"color":"#111"},{"offset":0.643,"color":"#fff"},{"offset":0.714,"color":"#fff"},{"offset":0.714,"color":"#111"},
{"offset":0.786,"color":"#111"},{"offset":0.786,"color":"#fff"},{"offset":0.857,"color":"#fff"},{"offset":0.857,"color":"#111"},
{"offset":0.929,"color":"#111"},{"offset":0.929,"color":"#fff"},{"offset":1,"color":"#fff"}]}},
"lswS": {"color": {"gradient":"linear","x1":0,"y1":1,"x2":1,"y2":0,"stops":[
{"offset":0,"color":"#111"},{"offset":0.071,"color":"#111"},{"offset":0.071,"color":"#a0a0a0"},{"offset":0.143,"color":"#a0a0a0"},{"offset":0.143,"color":"#111"},
{"offset":0.214,"color":"#111"},{"offset":0.214,"color":"#a0a0a0"},{"offset":0.286,"color":"#a0a0a0"},{"offset":0.286,"color":"#111"},
{"offset":0.357,"color":"#111"},{"offset":0.357,"color":"#a0a0a0"},{"offset":0.429,"color":"#a0a0a0"},{"offset":0.429,"color":"#111"},
{"offset":0.5,"color":"#111"},{"offset":0.5,"color":"#a0a0a0"},{"offset":0.571,"color":"#a0a0a0"},{"offset":0.571,"color":"#111"},
{"offset":0.643,"color":"#111"},{"offset":0.643,"color":"#a0a0a0"},{"offset":0.714,"color":"#a0a0a0"},{"offset":0.714,"color":"#111"},
{"offset":0.786,"color":"#111"},{"offset":0.786,"color":"#a0a0a0"},{"offset":0.857,"color":"#a0a0a0"},{"offset":0.857,"color":"#111"},
{"offset":0.929,"color":"#111"},{"offset":0.929,"color":"#a0a0a0"},{"offset":1,"color":"#a0a0a0"}]}},
"lrowN": {"color": {"gradient":"linear","x1":0,"y1":0,"x2":0,"y2":1,"stops":[
{"offset":0,"color":"#fff"},{"offset":0.14,"color":"#fff"},{"offset":0.14,"color":"#777"},{"offset":0.2,"color":"#777"},{"offset":0.2,"color":"#fff"},
{"offset":0.47,"color":"#fff"},{"offset":0.47,"color":"#777"},{"offset":0.53,"color":"#777"},{"offset":0.53,"color":"#fff"},
{"offset":0.8,"color":"#fff"},{"offset":0.8,"color":"#777"},{"offset":0.86,"color":"#777"},{"offset":0.86,"color":"#fff"},{"offset":1,"color":"#fff"}]}},
"lrowS": {"color": {"gradient":"linear","x1":0,"y1":0,"x2":0,"y2":1,"stops":[
{"offset":0,"color":"#a0a0a0"},{"offset":0.14,"color":"#a0a0a0"},{"offset":0.14,"color":"#333"},{"offset":0.2,"color":"#333"},{"offset":0.2,"color":"#a0a0a0"},
{"offset":0.47,"color":"#a0a0a0"},{"offset":0.47,"color":"#333"},{"offset":0.53,"color":"#333"},{"offset":0.53,"color":"#a0a0a0"},
{"offset":0.8,"color":"#a0a0a0"},{"offset":0.8,"color":"#333"},{"offset":0.86,"color":"#333"},{"offset":0.86,"color":"#a0a0a0"},{"offset":1,"color":"#a0a0a0"}]}},
"lmaskN": {"color": {"gradient":"linear","x1":0,"y1":0,"x2":1,"y2":0,"stops":[
{"offset":0,"color":"#fff"},{"offset":0.14,"color":"#fff"},{"offset":0.14,"color":"rgba(255,255,255,0)"},{"offset":0.2,"color":"rgba(255,255,255,0)"},{"offset":0.2,"color":"#fff"},
{"offset":0.47,"color":"#fff"},{"offset":0.47,"color":"rgba(255,255,255,0)"},{"offset":0.53,"color":"rgba(255,255,255,0)"},{"offset":0.53,"color":"#fff"},
{"offset":0.8,"color":"#fff"},{"offset":0.8,"color":"rgba(255,255,255,0)"},{"offset":0.86,"color":"rgba(255,255,255,0)"},{"offset":0.86,"color":"#fff"},{"offset":1,"color":"#fff"}]}},
"lmaskS": {"color": {"gradient":"linear","x1":0,"y1":0,"x2":1,"y2":0,"stops":[
{"offset":0,"color":"#a0a0a0"},{"offset":0.14,"color":"#a0a0a0"},{"offset":0.14,"color":"rgba(160,160,160,0)"},{"offset":0.2,"color":"rgba(160,160,160,0)"},{"offset":0.2,"color":"#a0a0a0"},
{"offset":0.47,"color":"#a0a0a0"},{"offset":0.47,"color":"rgba(160,160,160,0)"},{"offset":0.53,"color":"rgba(160,160,160,0)"},{"offset":0.53,"color":"#a0a0a0"},
{"offset":0.8,"color":"#a0a0a0"},{"offset":0.8,"color":"rgba(160,160,160,0)"},{"offset":0.86,"color":"rgba(160,160,160,0)"},{"offset":0.86,"color":"#a0a0a0"},{"offset":1,"color":"#a0a0a0"}]}}
}
}
}
